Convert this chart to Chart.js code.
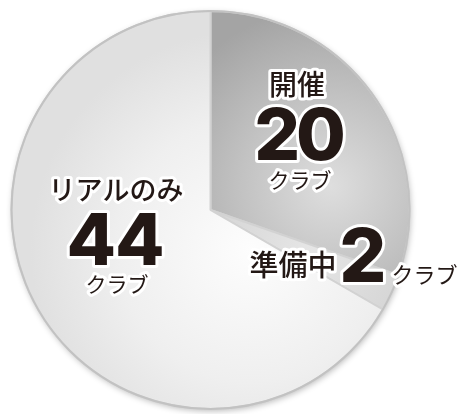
<!DOCTYPE html>
<html lang="ja">
<head>
<meta charset="utf-8">
<script src="https://cdn.jsdelivr.net/npm/chart.js@4/dist/chart.umd.min.js"></script>
<style>
  html, body { margin: 0; padding: 0; background: #ffffff; }
  #wrap { width: 457px; height: 414px; }
</style>
</head>
<body>
<div id="wrap"><canvas id="c" width="457" height="414"></canvas></div>
<script>
// クラブの開催状況
const categories = ['開催', '準備中', 'リアルのみ'];
const clubCounts = [20, 2, 44];
const unitLabel = 'クラブ';

const INK = '#231815';
const JP_FONT = '"Noto Sans CJK JP", "Noto Sans", sans-serif';
const NUM_FONT = 'Inter, Lato, "Liberation Sans", sans-serif';

// Pie centre and radius taken from the chart area
function pieGeometry(chart) {
  const a = chart.chartArea;
  return {
    cx: (a.left + a.right) / 2,
    cy: (a.top + a.bottom) / 2,
    R: Math.min(a.width, a.height) / 2
  };
}

// Radial shading for each slice
function sliceFill(ctx) {
  const chart = ctx.chart;
  if (!chart.chartArea) return '#cccccc';
  const { cx, cy, R } = pieGeometry(chart);
  const c = chart.ctx;
  const i = ctx.dataIndex;
  let g;
  if (i === 0) {
    const gx = cx + R * 0.6, gy = cy - R * 0.12;
    g = c.createRadialGradient(gx, gy, 0, gx, gy, R * 0.9);
    g.addColorStop(0, '#dedede');
    g.addColorStop(0.5, '#c2c2c2');
    g.addColorStop(1, '#a4a4a4');
  } else if (i === 1) {
    const gx = cx + R * 0.5, gy = cy + R * 0.2;
    g = c.createRadialGradient(gx, gy, 0, gx, gy, R * 0.6);
    g.addColorStop(0, '#e6e6e6');
    g.addColorStop(1, '#d2d2d2');
  } else {
    const gx = cx + R * 0.2, gy = cy + R * 0.2;
    g = c.createRadialGradient(gx, gy, 0, gx, gy, R * 1.1);
    g.addColorStop(0, '#fdfdfd');
    g.addColorStop(0.6, '#efefef');
    g.addColorStop(1, '#e0e0e0');
  }
  return g;
}

// Soft drop shadow and grey rim around the whole pie
const rimPlugin = {
  id: 'rim',
  beforeDatasetsDraw(chart) {
    const arc = chart.getDatasetMeta(0).data[0];
    if (!arc) return;
    const c = chart.ctx;
    c.save();
    c.beginPath();
    c.arc(arc.x, arc.y, arc.outerRadius, 0, Math.PI * 2);
    c.fillStyle = '#e4e4e4';
    c.shadowColor = 'rgba(0,0,0,0.28)';
    c.shadowBlur = 6;
    c.shadowOffsetX = 1;
    c.shadowOffsetY = 2;
    c.fill();
    c.restore();
  },
  afterDatasetsDraw(chart) {
    const arc = chart.getDatasetMeta(0).data[0];
    if (!arc) return;
    const c = chart.ctx;
    c.save();
    c.beginPath();
    c.arc(arc.x, arc.y, arc.outerRadius, 0, Math.PI * 2);
    c.strokeStyle = '#c2c2c2';
    c.lineWidth = 2;
    c.stroke();
    c.restore();
  }
};

// Slice captions: name, count and unit, with a white halo
const captionPlugin = {
  id: 'captions',
  afterDraw(chart) {
    const arc0 = chart.getDatasetMeta(0).data[0];
    if (!arc0) return;
    const cx = arc0.x, cy = arc0.y, s = arc0.outerRadius / 200;
    const c = chart.ctx;
    const vals = chart.data.datasets[0].data;
    const labels = chart.data.labels;

    function put(text, dx, dy, font, baseline, spacing) {
      c.save();
      c.font = font;
      c.textAlign = 'center';
      c.textBaseline = baseline;
      c.letterSpacing = spacing || '0px';
      c.lineJoin = 'round';
      c.strokeStyle = '#ffffff';
      c.lineWidth = 6;
      c.strokeText(text, cx + dx * s, cy + dy * s);
      c.fillStyle = INK;
      c.fillText(text, cx + dx * s, cy + dy * s);
      c.restore();
    }
    const jp = (px, w) => `${w || 500} ${Math.round(px * s)}px ${JP_FONT}`;
    const num = (px) => `800 ${Math.round(px * s)}px ${NUM_FONT}`;

    // 開催
    put(labels[0], 87, -126, jp(28), 'middle');
    put(String(vals[0]), 88, -50, num(72), 'alphabetic', '-4px');
    put(unitLabel, 90, -30, jp(21, 400), 'middle');

    // リアルのみ
    put(labels[2], -95, -20, jp(27), 'middle');
    put(String(vals[2]), -96, 55, num(72), 'alphabetic', '-1px');
    put(unitLabel, -94, 74, jp(21, 400), 'middle');

    // 準備中
    put(labels[1], 83, 55, jp(29), 'middle');
    put(String(vals[1]), 153, 72, num(74), 'alphabetic');
    put(unitLabel, 215, 65, jp(22, 400), 'middle');
  }
};

new Chart(document.getElementById('c'), {
  type: 'pie',
  data: {
    labels: categories,
    datasets: [{
      data: clubCounts,
      backgroundColor: sliceFill,
      borderColor: '#d2d2d2',
      borderWidth: 2,
      hoverOffset: 0
    }]
  },
  options: {
    responsive: false,
    animation: false,
    events: [],
    layout: { padding: { left: 10, right: 46, top: 10, bottom: 4 } },
    plugins: {
      legend: { display: false },
      tooltip: { enabled: false }
    }
  },
  plugins: [rimPlugin, captionPlugin]
});
</script>
</body>
</html>
